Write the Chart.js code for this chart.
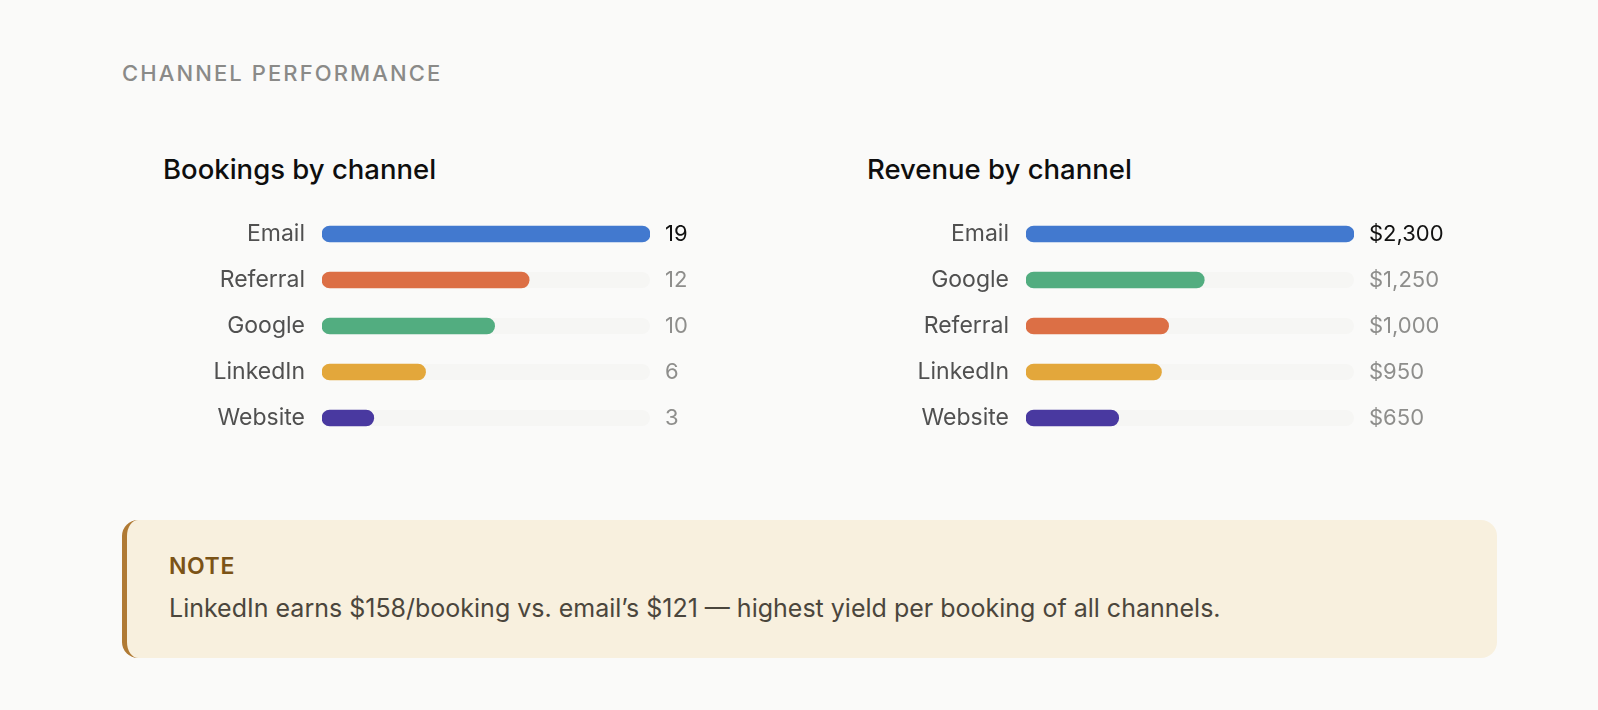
<!DOCTYPE html>
<html>
<head>
<meta charset="utf-8">
<script src="https://cdn.jsdelivr.net/npm/chart.js@4.4.1/dist/chart.umd.min.js"></script>
<style>
  html, body { margin: 0; padding: 0; }
  body {
    width: 1598px; height: 710px; position: relative; overflow: hidden;
    background: #fafaf9; font-family: Inter, "Noto Sans", sans-serif;
  }
  .eyebrow {
    position: absolute; left: 122px; top: 62px; margin: 0;
    font-size: 22px; line-height: 22px; font-weight: 500;
    letter-spacing: 2.1px; color: #8a8a88;
  }
  .title {
    position: absolute; top: 155px; margin: 0;
    font-size: 27.5px; line-height: 28px; font-weight: 500; color: #0e0e0e;
  }
  .box { position: absolute; top: 211px; width: 597px; height: 230px; }
  .note {
    position: absolute; left: 122px; top: 520px; width: 1375px; height: 138px;
    box-sizing: border-box; background: #f8f0de;
    border-left: 5px solid #b07a34; border-radius: 16px;
  }
  .note .tag {
    position: absolute; left: 42px; top: 35px;
    font-size: 23px; line-height: 23px; font-weight: 600; color: #7b5316; letter-spacing: 0.6px;
  }
  .note .txt {
    position: absolute; left: 42px; top: 76px; white-space: nowrap;
    font-size: 25px; line-height: 25px; color: #4b463c;
  }
</style>
</head>
<body>

<p class="eyebrow">CHANNEL PERFORMANCE</p>

<p class="title" style="left:163px">Bookings by channel</p>
<p class="title" style="left:867px">Revenue by channel</p>

<div class="box" style="left:163px"><canvas id="bookingsChart"></canvas></div>
<div class="box" style="left:867px"><canvas id="revenueChart"></canvas></div>

<div class="note">
  <div class="tag">NOTE</div>
  <div class="txt">LinkedIn earns $158/booking vs. email’s $121 — highest yield per booking of all channels.</div>
</div>

<script>
// data
const bookingChannels = ["Email", "Referral", "Google", "LinkedIn", "Website"];
const bookings = [19, 12, 10, 6, 3];

const revenueChannels = ["Email", "Google", "Referral", "LinkedIn", "Website"];
const revenue = [2300, 1250, 1000, 950, 650];

const channelColors = {
  Email: "#4279cf",
  Referral: "#dc6f45",
  Google: "#52ad80",
  LinkedIn: "#e3a73b",
  Website: "#4939a0"
};

// faint track behind each bar, full width of the x scale
const trackPlugin = {
  id: "track",
  beforeDatasetsDraw(chart) {
    const { ctx, scales: { x, y } } = chart;
    const h = 16;
    const left = x.getPixelForValue(0);
    const right = x.getPixelForValue(x.max);
    ctx.save();
    ctx.fillStyle = "#f6f6f4";
    y.ticks.forEach((t, i) => {
      const cy = y.getPixelForValue(i);
      ctx.beginPath();
      ctx.roundRect(left, cy - h / 2, right - left, h, h / 2);
      ctx.fill();
    });
    ctx.restore();
  }
};

function fixWidth(w) {
  return scale => {
    scale.width = w;
    scale.paddingTop = 0;
    scale.paddingBottom = 0;
  };
}

function makeChart(id, labels, values, fmt) {
  const valueLabels = values.map(fmt);
  return new Chart(document.getElementById(id), {
    type: "bar",
    data: {
      labels: labels,
      datasets: [{
        data: values,
        backgroundColor: labels.map(l => channelColors[l]),
        barThickness: 16,
        borderRadius: 8,
        borderSkipped: false
      }]
    },
    options: {
      indexAxis: "y",
      responsive: true,
      maintainAspectRatio: false,
      animation: false,
      layout: { padding: 0 },
      plugins: {
        legend: { display: false },
        tooltip: { enabled: false }
      },
      scales: {
        x: { display: false, min: 0, max: Math.max(...values) },
        y: {
          position: "left",
          grid: { display: false, drawTicks: false },
          border: { display: false },
          ticks: {
            padding: 17,
            color: "#505050",
            font: { family: "Inter", size: 23 }
          },
          afterFit: fixWidth(159)
        },
        y2: {
          type: "category",
          position: "right",
          labels: valueLabels,
          offset: true,
          grid: { display: false, drawTicks: false },
          border: { display: false },
          ticks: {
            padding: 15,
            color: c => c.index === 0 ? "#111111" : "#8e8e8c",
            font: { family: "Inter", size: 22 }
          },
          afterFit: fixWidth(110)
        }
      }
    },
    plugins: [trackPlugin]
  });
}

makeChart("bookingsChart", bookingChannels, bookings, v => String(v));
makeChart("revenueChart", revenueChannels, revenue, v => "$" + v.toLocaleString("en-US"));
</script>
</body>
</html>
